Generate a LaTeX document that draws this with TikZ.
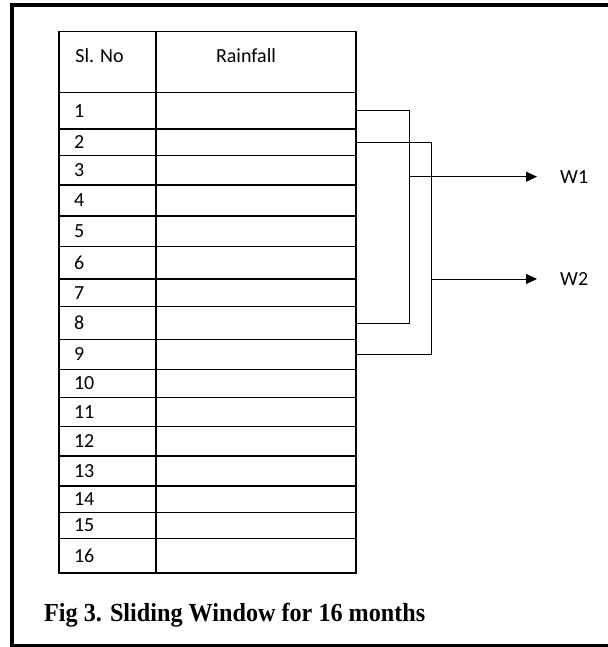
\documentclass[tikz,border=0pt]{standalone}
\usepackage{fontspec}
\setmainfont{Carlito}
\newfontfamily\captionfont{Liberation Serif}
\usetikzlibrary{positioning, arrows.meta, calc}
\tikzset{
    cell/.style={
        draw, line width=1.2pt, inner sep=0pt, outer sep=0pt,
        font=\fontsize{20}{24}\selectfont
    },
    slcell/.style={
        cell, minimum width=97pt, inner xsep=15pt, text width=67pt, align=left
    },
    raincell/.style={
        cell, minimum width=200pt
    },
    headtext/.style={
        anchor=north, inner sep=0pt, yshift=-17pt,
        font=\fontsize{20}{24}\selectfont
    },
    link/.style={
        line width=0.9pt
    },
    arrow/.style={
        link, -{Triangle[length=11pt,width=10pt]}
    },
    winlabel/.style={
        anchor=west, inner xsep=23pt, inner ysep=0pt,
        font=\fontsize{20}{24}\selectfont
    }
}

\begin{document}
\begin{tikzpicture}[x=1pt, y=-1pt]
    \useasboundingbox (0,0) rectangle (607,647);
    % outer frame
    \draw[line width=4pt] (12,5) rectangle (650,645.5);
    % header
    \node[slcell, minimum height=60.6pt,
          label={[headtext, xshift=-8pt]north:Sl. No}]
          (slhead) at (107.5,62) {};
    \node[raincell, minimum height=60.6pt, right=0pt of slhead,
          label={[headtext, xshift=-10pt]north:Rainfall}]
          (rainhead) {};
    % rows
    \foreach \n/\t/\b in {1/92.3/129, 2/129/155.3, 3/155.3/185, 4/185/216,
        5/216/246.7, 6/246.7/279, 7/279/306.7, 8/306.7/339.5,
        9/339.5/369.3, 10/369.3/397.3, 11/397.3/426.7, 12/426.7/456,
        13/456/486, 14/486/512.3, 15/512.3/538.3, 16/538.3/573} {
        \node[slcell, minimum height={(\b-\t)*1pt}] (sl\n) at (107.5,{(\t+\b)/2}) {\n};
        \node[raincell, minimum height={(\b-\t)*1pt}, right=0pt of sl\n] (rain\n) {};
    }
    % sliding windows
    \draw[link] (rain1.east) -- ++(53,0) |- (rain8.east);
    \draw[link] (rain2.east) -- ++(75,0) |- (rain9.east);
    \coordinate (j1) at (409,176.7);
    \coordinate (j2) at (431,279);
    \node[winlabel] (w1) at (537,176.7) {W1};
    \node[winlabel] (w2) at (537,279) {W2};
    \draw[arrow] (j1) -- (w1);
    \draw[arrow] (j2) -- (w2);
    % caption
    \node[anchor=base west, inner sep=0pt, font=\captionfont\bfseries\fontsize{26}{30}\selectfont]
        (caption) at (44,621) {\scalebox{0.93}[1]{Fig 3. Sliding Window for 16 months}};
\end{tikzpicture}
\end{document}
